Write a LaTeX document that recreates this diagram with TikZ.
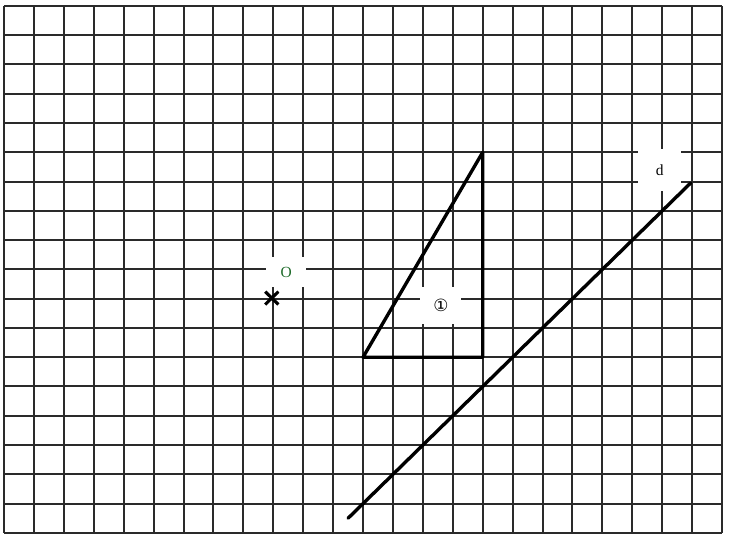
\documentclass[tikz,border=0pt]{standalone}
\usepackage{fontspec}
\setmainfont{Liberation Serif}
\newfontfamily\circfont{DejaVu Sans}
\usetikzlibrary{positioning}
\definecolor{ink}{HTML}{2A2A2A}
\definecolor{olabel}{HTML}{1E6B2A}
\tikzset{
  gridline/.style={draw=ink,line width=1.417pt},
  thickline/.style={draw=black,line width=2.4pt,line cap=round,line join=round},
  tag/.style={fill=white,inner sep=0pt,font=\fontsize{11}{13}\selectfont}
}

\begin{document}
\begin{tikzpicture}[x=0.748cm,y=0.732cm]
\useasboundingbox (-0.134,-0.205) rectangle (24.298,18.2);
\fill[white] (-0.134,-0.205) rectangle (24.298,18.2);
\draw[gridline,xstep=0.748cm,ystep=0.732cm] (0,0) grid (24,18);

% label boxes sit on top of the grid
\node[tag,minimum width=1.0cm,minimum height=0.73cm] (olab) at (9.43,8.91) {\color{olabel}O};
\node[tag,minimum width=1.03cm,minimum height=0.93cm,font=\circfont\fontsize{12}{14}\selectfont] (onelab) at (14.6,7.77) {①};
\node[tag,minimum width=1.08cm,minimum height=1.05cm] (dlab) at (21.92,12.38) {d};

% triangle
\coordinate (ta) at (12,6);
\coordinate (tb) at (16,13);
\coordinate (tc) at (16,6);
\draw[thickline] (ta) -- (tb) -- (tc) -- cycle;

% point O
\coordinate (o) at (8.95,8.02);
\draw[line width=2.2pt] ([shift={(-0.22,-0.22)}]o) -- ([shift={(0.22,0.22)}]o)
                        ([shift={(-0.22,0.22)}]o) -- ([shift={(0.22,-0.22)}]o);

% line d
\coordinate (dstart) at (11.5,0.5);
\coordinate (dend) at (22.95,11.95);
\draw[thickline] (dstart) -- (dend);
\end{tikzpicture}
\end{document}
